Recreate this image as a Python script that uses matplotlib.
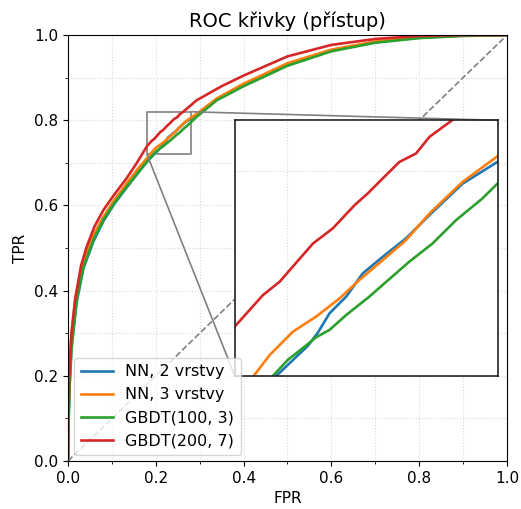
import matplotlib
matplotlib.use("Agg")
import matplotlib.pyplot as plt
from matplotlib.ticker import MultipleLocator
from mpl_toolkits.axes_grid1.inset_locator import mark_inset

# ROC body (FPR, TPR), inset region
nn2_fpr = [0.0, 0.001, 0.004, 0.008, 0.0197, 0.035, 0.0577, 0.0805, 0.105, 0.1336, 0.16, 0.18,
           0.1958, 0.2021, 0.2078, 0.2116, 0.216, 0.2223, 0.2286, 0.2362, 0.245, 0.2539, 0.2665, 0.2797,
           0.293, 0.34, 0.4, 0.5, 0.6, 0.7, 0.8, 0.9, 1.0]
nn2_tpr = [0.0, 0.09, 0.19, 0.27, 0.372, 0.452, 0.515, 0.563, 0.603, 0.642, 0.677, 0.703,
           0.72, 0.7262, 0.7318, 0.737, 0.7445, 0.751, 0.7601, 0.7666, 0.7738, 0.7829, 0.7952, 0.8037,
           0.813, 0.85, 0.884, 0.932, 0.964, 0.984, 0.994, 0.999, 1.0]

nn3_fpr = [0.0, 0.001, 0.004, 0.008, 0.018, 0.035, 0.055, 0.08, 0.105, 0.1336, 0.16,
           0.1872, 0.1933, 0.2021, 0.2109, 0.2198, 0.2273, 0.2362, 0.245, 0.2539, 0.2665, 0.2797,
           0.293, 0.34, 0.4, 0.5, 0.6, 0.7, 0.8, 0.9, 1.0]
nn3_tpr = [0.0, 0.1, 0.22, 0.3, 0.39, 0.47, 0.525, 0.572, 0.612, 0.652, 0.687,
           0.72, 0.7282, 0.7373, 0.7432, 0.7503, 0.7575, 0.7653, 0.7731, 0.7835, 0.7959, 0.8059,
           0.815, 0.852, 0.886, 0.934, 0.966, 0.985, 0.995, 0.999, 1.0]

gb100_fpr = [0.0, 0.001, 0.004, 0.008, 0.0197, 0.035, 0.0577, 0.0805, 0.105, 0.1336, 0.16, 0.18,
             0.1945, 0.2002, 0.2065, 0.2109, 0.216, 0.2223, 0.2311, 0.2375, 0.2463, 0.2551, 0.264, 0.274, 0.2797,
             0.293, 0.339, 0.4, 0.5, 0.6, 0.7, 0.8, 0.9, 1.0]
gb100_tpr = [0.0, 0.08, 0.18, 0.26, 0.378, 0.455, 0.519, 0.566, 0.605, 0.644, 0.678, 0.703,
             0.72, 0.7263, 0.7314, 0.7351, 0.738, 0.7438, 0.751, 0.7568, 0.7647, 0.7718, 0.7809, 0.7894, 0.7952,
             0.808, 0.847, 0.88, 0.928, 0.962, 0.982, 0.993, 0.998, 1.0]

gb200_fpr = [0.0, 0.001, 0.004, 0.008, 0.016, 0.03, 0.0426, 0.06, 0.0805, 0.105, 0.1336, 0.155,
             0.18, 0.1907, 0.197, 0.2053, 0.2097, 0.2172, 0.2255, 0.2305, 0.2368, 0.2425, 0.2488, 0.2539, 0.2621,
             0.293, 0.35, 0.4, 0.5, 0.6, 0.7, 0.8, 0.9, 1.0]
gb200_tpr = [0.0, 0.12, 0.23, 0.3, 0.378, 0.46, 0.503, 0.55, 0.589, 0.625, 0.664, 0.697,
             0.7393, 0.7516, 0.7568, 0.7666, 0.7718, 0.7777, 0.7868, 0.7914, 0.7979, 0.8037, 0.807, 0.8135, 0.8197,
             0.847, 0.88, 0.905, 0.95, 0.977, 0.991, 0.998, 1.0, 1.0]

curves = [
    ("NN, 2 vrstvy", nn2_fpr, nn2_tpr, "tab:blue"),
    ("NN, 3 vrstvy", nn3_fpr, nn3_tpr, "tab:orange"),
    ("GBDT(100, 3)", gb100_fpr, gb100_tpr, "tab:green"),
    ("GBDT(200, 7)", gb200_fpr, gb200_tpr, "tab:red"),
]

zoom_x = (0.18, 0.28)
zoom_y = (0.72, 0.82)

plt.rcParams["font.size"] = 11

fig = plt.figure(figsize=(5.21, 5.09), dpi=100)
ax = fig.add_axes([0.1305, 0.0943, 0.8425, 0.8367])

grid_kw = dict(linestyle=":", color="#d9d9d9", linewidth=0.8)

for label, fpr, tpr, color in curves:
    ax.plot(fpr, tpr, color=color, linewidth=1.9, label=label)
ax.plot([0, 1], [0, 1], linestyle="--", color="gray", linewidth=1.2)

ax.set_xlim(0, 1)
ax.set_ylim(0, 1)
ax.xaxis.set_major_locator(MultipleLocator(0.2))
ax.yaxis.set_major_locator(MultipleLocator(0.2))
ax.xaxis.set_minor_locator(MultipleLocator(0.1))
ax.yaxis.set_minor_locator(MultipleLocator(0.1))
ax.grid(True, which="both", **grid_kw)
ax.set_xlabel("FPR")
ax.set_ylabel("TPR")
ax.set_title("ROC křivky (přístup)", fontsize=14)
ax.legend(loc="lower left", fontsize=11.5, borderaxespad=0.4)

# Zoomed inset
axins = ax.inset_axes([0.38, 0.2, 0.6, 0.6])
for label, fpr, tpr, color in curves:
    axins.plot(fpr, tpr, color=color, linewidth=1.9)
axins.set_xlim(*zoom_x)
axins.set_ylim(*zoom_y)
axins.xaxis.set_major_locator(MultipleLocator(0.2))
axins.yaxis.set_major_locator(MultipleLocator(0.2))
axins.tick_params(length=0, labelbottom=False, labelleft=False)
axins.grid(True, **grid_kw)
for sp in axins.spines.values():
    sp.set_linewidth(1.2)
    sp.set_color("#222222")

mark_inset(ax, axins, loc1=1, loc2=3, fc="none", ec="0.5", lw=1.2)

fig.savefig("out.png", dpi=100)
